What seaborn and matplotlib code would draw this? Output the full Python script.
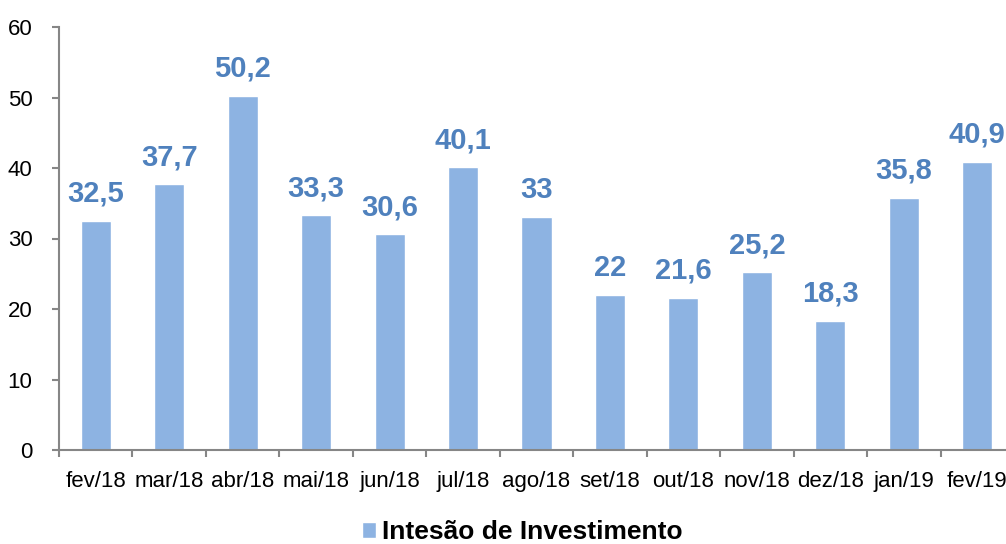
import numpy as np
import matplotlib
matplotlib.use('Agg')
import matplotlib.pyplot as plt
import seaborn as sns

# dados do gráfico
meses = ['fev/18', 'mar/18', 'abr/18', 'mai/18', 'jun/18', 'jul/18', 'ago/18',
         'set/18', 'out/18', 'nov/18', 'dez/18', 'jan/19', 'fev/19']
valores = [32.5, 37.7, 50.2, 33.3, 30.6, 40.1, 33, 22, 21.6, 25.2, 18.3, 35.8, 40.9]
rotulos = ['32,5', '37,7', '50,2', '33,3', '30,6', '40,1', '33', '22', '21,6',
           '25,2', '18,3', '35,8', '40,9']
serie = 'Intesão de Investimento'

sns.set_style('white')
plt.rcParams['font.family'] = ['Liberation Sans', 'DejaVu Sans']
plt.rcParams['text.color'] = 'black'

fig = plt.figure(figsize=(10.06, 5.44), dpi=100)
ax = fig.add_axes([59 / 1006, 94 / 544, 955 / 1006, 423 / 544])

sns.barplot(x=meses, y=valores, color='#8DB3E2', saturation=1, width=0.41,
            label=serie, ax=ax)

# rótulos de valor acima das barras
for i, (v, r) in enumerate(zip(valores, rotulos)):
    ax.annotate(r, (i, v), xytext=(0, 9.5), textcoords='offset points',
                ha='center', va='bottom', fontsize=21, fontweight='bold',
                color='#4F81BD')

ax.set_xlim(-0.5, len(meses) - 0.5)
ax.set_ylim(0, 60)
ax.set_yticks(np.arange(0, 61, 10))

for s in ['top', 'right']:
    ax.spines[s].set_visible(False)
for s in ['left', 'bottom']:
    ax.spines[s].set_color('#868686')
    ax.spines[s].set_linewidth(1.5)

ax.tick_params(axis='y', which='major', direction='out', length=5, width=1.5,
               color='#868686', labelcolor='black', labelsize=16, pad=14, left=True)
ax.tick_params(axis='x', which='major', length=0, labelcolor='black',
               labelsize=16, pad=15)
ax.set_xticks(np.arange(-0.5, len(meses), 1), minor=True)
ax.tick_params(axis='x', which='minor', direction='out', length=5, width=1.5,
               color='#868686', bottom=True)
ax.set_xlabel('')
ax.set_ylabel('')

ax.legend(loc='lower center', bbox_to_anchor=(522 / 1006, 0.0),
          bbox_transform=fig.transFigure, frameon=False, borderpad=0,
          borderaxespad=0, handlelength=0.55, handleheight=0.55,
          handletextpad=0.2, labelcolor='black',
          prop={'size': 19, 'weight': 'bold'})

fig.savefig('out.png', dpi=100)
plt.close(fig)
